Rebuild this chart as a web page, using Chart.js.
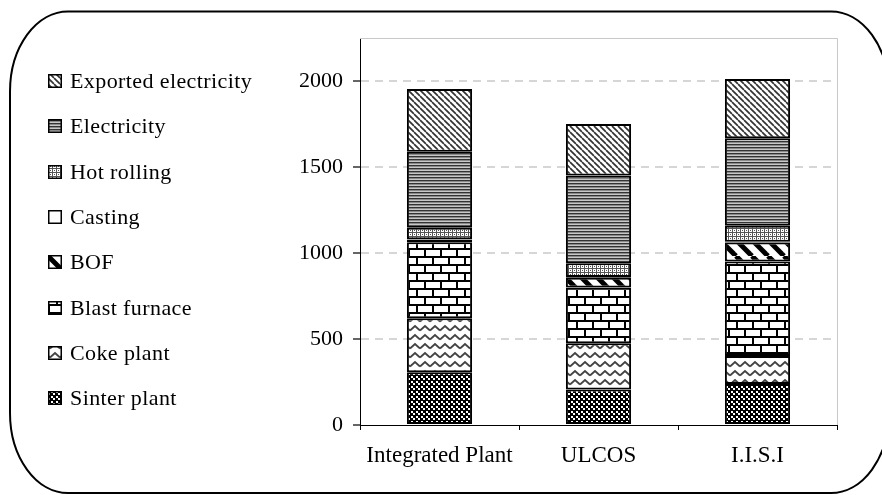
<!DOCTYPE html>
<html><head><meta charset="utf-8">
<script src="https://cdn.jsdelivr.net/npm/chart.js@4/dist/chart.umd.min.js"></script>
<style>html,body{margin:0;padding:0;background:#fff}#wrap{width:882px;height:495px;position:relative}</style>
</head><body><div id="wrap"><canvas id="c" width="882" height="495"></canvas></div>
<script>
const categories = ['Integrated Plant', 'ULCOS', 'I.I.S.I'];
const sinterPlant = [306, 207, 238];
const cokePlant = [314, 268, 163];
const blastFurnace = [442, 325, 549];
const bof = [15, 56, 111];
const casting = [3, 4, 5];
const hotRolling = [67, 80, 93];
const electricity = [442, 510, 508];
const exportedElectricity = [364, 300, 345];
const seriesNames = ['Sinter plant', 'Coke plant', 'Blast furnace', 'BOF', 'Casting', 'Hot rolling', 'Electricity', 'Exported electricity'];
const yTicks = [0, 500, 1000, 1500, 2000];
const yMax = 2250;

const FONT = '"Liberation Serif", "Times New Roman", serif';
const mainCtx = document.getElementById('c').getContext('2d');
function tile(w, h, draw) {
  const c = document.createElement('canvas'); c.width = w; c.height = h;
  const x = c.getContext('2d'); draw(x, w, h);
  return mainCtx.createPattern(c, 'repeat');
}
const patterns = [
  // sinter: checkerboard
  tile(5, 5, (x) => { x.fillStyle = '#000'; x.fillRect(0,0,5,5); x.fillStyle = '#fff'; x.fillRect(1,1,2,2); x.fillRect(3,3,2,2); }),
  // coke: wave
  tile(10, 9, (x) => { x.fillStyle = '#fff'; x.fillRect(0,0,10,9); x.strokeStyle = '#444'; x.lineWidth = 1.8;
    for (const dy of [-9, 0, 9]) { x.beginPath(); x.moveTo(0, 6.5+dy); x.lineTo(5, 2+dy); x.lineTo(10, 6.5+dy); x.stroke(); } }),
  // blast furnace: horizontal brick
  tile(16, 16, (x) => { x.fillStyle = '#000'; x.fillRect(0,0,16,16); x.fillStyle = '#fff';
    x.fillRect(2,2,14,6); x.fillRect(0,10,8,6); x.fillRect(10,10,6,6); }),
  // BOF: wide downward diagonal
  tile(16, 16, (x) => { x.fillStyle = '#fff'; x.fillRect(0,0,16,16); x.strokeStyle = '#000'; x.lineWidth = 5;
    for (const o of [-16, 0, 16]) { x.beginPath(); x.moveTo(o, 0); x.lineTo(o+16, 16); x.stroke(); } }),
  // casting: plain white
  '#ffffff',
  // hot rolling: dotted grid
  tile(4, 4, (x) => { x.fillStyle = '#fff'; x.fillRect(0,0,4,4); x.fillStyle = '#555'; x.fillRect(0,0,4,1); x.fillRect(0,0,1,4); x.fillRect(2,2,1,1); }),
  // electricity: narrow horizontal
  tile(2, 3, (x) => { x.fillStyle = '#333'; x.fillRect(0,0,2,1); x.fillStyle = '#8a8a8a'; x.fillRect(0,1,2,1); x.fillStyle = '#c8c8c8'; x.fillRect(0,2,2,1); }),
  // exported electricity: light downward diagonal
  tile(6, 6, (x) => { x.fillStyle = '#fff'; x.fillRect(0,0,6,6); x.strokeStyle = '#333'; x.lineWidth = 1.7;
    for (const o of [-6, 0, 6]) { x.beginPath(); x.moveTo(o, 0); x.lineTo(o+6, 6); x.stroke(); } })
];
const seriesValues = [sinterPlant, cokePlant, blastFurnace, bof, casting, hotRolling, electricity, exportedElectricity];

const frameAndLegend = {
  id: 'frameAndLegend',
  beforeDraw(chart) {
    const ctx = chart.ctx;
    ctx.save();
    ctx.fillStyle = '#fff'; ctx.fillRect(0, 0, chart.width, chart.height);
    const L = 10, T = 11.5, R = 889, B = 493, rx = 58, ry = 80;
    ctx.beginPath();
    ctx.moveTo(L + rx, T);
    ctx.lineTo(R - rx, T);
    ctx.ellipse(R - rx, T + ry, rx, ry, 0, -Math.PI/2, 0);
    ctx.lineTo(R, B - ry);
    ctx.ellipse(R - rx, B - ry, rx, ry, 0, 0, Math.PI/2);
    ctx.lineTo(L + rx, B);
    ctx.ellipse(L + rx, B - ry, rx, ry, 0, Math.PI/2, Math.PI);
    ctx.lineTo(L, T + ry);
    ctx.ellipse(L + rx, T + ry, rx, ry, 0, Math.PI, 1.5*Math.PI);
    ctx.closePath();
    ctx.lineWidth = 2; ctx.strokeStyle = '#000'; ctx.stroke();
    ctx.restore();
  },
  beforeDatasetsDraw(chart) {
    const {ctx, chartArea: a} = chart;
    ctx.save();
    ctx.strokeStyle = '#c8c8c8'; ctx.lineWidth = 1;
    ctx.beginPath();
    ctx.moveTo(a.left, a.top + 0.5); ctx.lineTo(a.right + 0.5, a.top + 0.5); ctx.lineTo(a.right + 0.5, a.bottom);
    ctx.stroke();
    ctx.restore();
  },
  afterDraw(chart) {
    const ctx = chart.ctx;
    ctx.save();
    const ds = chart.data.datasets.slice().reverse();
    const y0 = 81, step = 45.3;
    ctx.font = '22px ' + FONT;
    if ('letterSpacing' in ctx) ctx.letterSpacing = '0.4px';
    ctx.textBaseline = 'middle';
    ds.forEach((d, i) => {
      const cy = Math.round(y0 + i * step);
      ctx.fillStyle = d.backgroundColor;
      ctx.fillRect(48, cy - 7, 14, 14);
      ctx.strokeStyle = '#000'; ctx.lineWidth = 1.5;
      ctx.strokeRect(48.75, cy - 6.25, 12.5, 12.5);
      ctx.fillStyle = '#000';
      ctx.fillText(d.label, 70, cy + 1);
    });
    ctx.restore();
  }
};

new Chart(document.getElementById('c'), {
  type: 'bar',
  data: {
    labels: categories,
    datasets: seriesNames.map((n, i) => ({
      label: n,
      data: seriesValues[i],
      backgroundColor: patterns[i],
      borderColor: '#000',
      borderWidth: 2,
      borderSkipped: false,
      barPercentage: 0.41,
      categoryPercentage: 1
    }))
  },
  options: {
    responsive: false,
    animation: false,
    devicePixelRatio: 1,
    layout: { padding: { left: 280, right: 45, top: 38, bottom: 0 } },
    plugins: { legend: { display: false }, tooltip: { enabled: false } },
    scales: {
      x: {
        stacked: true,
        afterFit: (s) => { s.height = 70; },
        grid: { offset: true, drawOnChartArea: false, tickLength: 5, color: '#000', tickColor: '#000', tickWidth: 1 },
        border: { color: '#000', width: 1 },
        ticks: { font: { family: FONT, size: 23 }, color: '#000', padding: 12, maxRotation: 0 }
      },
      y: {
        stacked: true,
        min: 0, max: yMax,
        afterFit: (s) => { s.width = 80; },
        afterBuildTicks: (s) => { s.ticks = yTicks.map(v => ({ value: v })); },
        grid: {
          color: (c) => (c.tick && c.tick.value === 0) ? 'rgba(0,0,0,0)' : '#d6d6d6',
          lineWidth: 2,
          tickLength: 7, tickColor: '#666', tickWidth: 2, tickBorderDash: []
        },
        border: { color: '#000', width: 1, dash: [8, 6] },
        ticks: { font: { family: FONT, size: 22 }, color: '#000', padding: 10, callback: (v) => String(v) }
      }
    }
  },
  plugins: [frameAndLegend]
});
</script></body></html>
